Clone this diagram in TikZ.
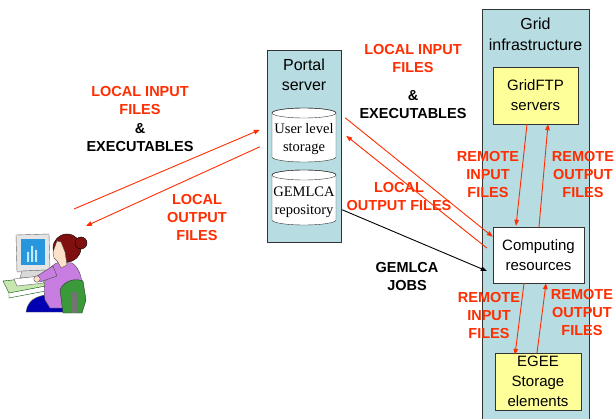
\documentclass[tikz,border=0pt]{standalone}
\usepackage{fontspec}
\setmainfont{Liberation Sans}
\newfontfamily\cylfont{Liberation Serif}
\usetikzlibrary{arrows.meta,calc}
\definecolor{portalteal}{RGB}{183,221,226}
\definecolor{boxyellow}{RGB}{255,255,153}
\definecolor{lblred}{RGB}{255,45,0}
\definecolor{hair}{RGB}{128,16,16}
\definecolor{skin}{RGB}{253,224,200}
\definecolor{shirt}{RGB}{199,126,224}
\definecolor{chair}{RGB}{58,154,58}
\definecolor{desk}{RGB}{200,230,176}
\definecolor{screen}{RGB}{40,150,220}
\begin{document}
\begin{tikzpicture}[x=1pt,y=-1pt,
  lbl/.style={font=\fontsize{14.5}{18}\selectfont\bfseries,align=center,inner sep=0pt},
  redlbl/.style={lbl,text=lblred},
  title/.style={font=\fontsize{16}{20.5}\selectfont,align=center,inner sep=0pt},
  hwbox/.style={draw=black!80,minimum width=85pt,minimum height=57pt,align=center,
    font=\fontsize{15}{20}\selectfont,inner sep=0pt},
  tip/.style={-{Triangle[length=6pt,width=4.5pt]}},
  redarrow/.style={tip,draw=lblred,line width=0.9pt}]
  \useasboundingbox (0,0) rectangle (615,419);

  % --- user at the workstation ---
  % desk
  \filldraw[fill=desk,draw=black!70!green] (3,281) -- (50,276) -- (56,284) -- (9,293) -- cycle;
  \draw[black!70!green] (9,293) -- (9,298) -- (56,289) -- (56,284);
  % monitor
  \filldraw[fill=black!10,draw=black!60] (16,235) -- (49,234) -- (50,270) -- (17,272) -- cycle;
  \fill[screen] (21,239) rectangle (45,265);
  \fill[cyan!25] (27,262) rectangle (29,252) (31,262) rectangle (33,246) (35,262) rectangle (37,250);
  \filldraw[fill=black!15,draw=black!60] (22,271) -- (46,270) -- (48,276) -- (20,278) -- cycle;
  % keyboard
  \filldraw[fill=white,draw=black!60] (14,279) -- (40,276) -- (44,283) -- (17,286) -- cycle;
  % legs
  \filldraw[fill=blue!70!black,draw=black!70] (26,312) .. controls (28,298) and (40,293) .. (62,295) -- (64,312) -- cycle;
  % body and arm
  \filldraw[fill=shirt,draw=black!70] (45,300) .. controls (42,280) and (48,264) .. (60,262)
    -- (72,263) .. controls (80,268) and (83,280) .. (82,292) -- (80,308) -- (50,308) -- cycle;
  \filldraw[fill=shirt,draw=black!70] (53,266) -- (37,276) -- (40,282) -- (57,276) -- cycle;
  \filldraw[fill=skin,draw=black!70] (37,279) circle[radius=3.2];
  % chair back
  \filldraw[fill=chair,draw=black!80] (60,290) .. controls (64,280) and (76,278) .. (83,281)
    -- (86,300) -- (82,313) -- (63,313) -- cycle;
  \fill[black!55] (72,292) rectangle (77,313);
  % head
  \filldraw[fill=hair,draw=black] (67,248) ellipse[x radius=14,y radius=14];
  \filldraw[fill=hair,draw=black] (81,243) circle[radius=6];
  \filldraw[fill=skin,draw=black!70] (57,241) -- (53,252) -- (54,258) -- (58,262) -- (61,268)
    -- (67,265) -- (65,252) -- (61,242) -- cycle;

  % --- portal server ---
  \node[draw=black!80,fill=portalteal,minimum width=74pt,minimum height=192pt,inner sep=0pt] (portal) at (304,146) {};
  \node[title] (portaltitle) at (304,75) {Portal\\server};
  % storage drums
  \foreach \t/\b in {113/157,175/220} {
    \filldraw[fill=white,draw=black!80] (272,\t) -- (272,\b) arc[start angle=180,end angle=0,x radius=32,y radius=5]
      -- (336,\t) arc[start angle=0,end angle=-180,x radius=32,y radius=5] -- cycle;
    \draw[black!80] (304,\t) ellipse[x radius=32,y radius=5];
  }
  \node[font=\cylfont\fontsize{14.5}{18.5}\selectfont,align=center,inner sep=0pt] (store) at (304,139) {User level\\storage};
  \node[font=\cylfont\fontsize{14.5}{18.5}\selectfont,align=center,inner sep=0pt] (repo) at (304,202.5) {GEMLCA\\repository};

  % --- grid infrastructure ---
  \fill[portalteal] (482,9) rectangle (589,419);
  \draw[black!80] (482,419) -- (482,9) -- (589,9) -- (589,419);
  \node[title] (gridtitle) at (535.5,34.5) {Grid\\infrastructure};
  \node[hwbox,fill=boxyellow] (ftp) at (535.5,95.5) {GridFTP\\servers};
  \node[hwbox,fill=white,minimum width=91pt,minimum height=56pt] (comp) at (538.5,255) {Computing\\resources};
  \node[hwbox,fill=boxyellow,minimum width=86pt] (egee) at (538,381.5) {EGEE\\Storage\\elements};

  % --- labels ---
  \node[redlbl] (inlbl) at (140,101) {LOCAL INPUT\\FILES};
  \node[lbl] (exelbl) at (140,138) {\&\\EXECUTABLES};
  \node[redlbl] (outlbl) at (197,217.5) {LOCAL\\OUTPUT\\FILES};
  \node[redlbl] (inlbl2) at (413,58.5) {LOCAL INPUT\\FILES};
  \node[lbl] (exelbl2) at (413,104.5) {\&\\EXECUTABLES};
  \node[redlbl] (outlbl2) at (399,197) {LOCAL\\OUTPUT FILES};
  \node[lbl] (jobslbl) at (407,276.5) {GEMLCA\\JOBS};
  \node[redlbl] (remin1) at (488,174.5) {REMOTE\\INPUT\\FILES};
  \node[redlbl] (remout1) at (583,174.5) {REMOTE\\OUTPUT\\FILES};
  \node[redlbl] (remin2) at (489,315.5) {REMOTE\\INPUT\\FILES};
  \node[redlbl] (remout2) at (582,313) {REMOTE\\OUTPUT\\FILES};

  % --- transfers ---
  \coordinate (userin) at (74,209);
  \coordinate (userout) at (86,226);
  \draw[redarrow] (userin) -- ($(portal.north west)+(-7,80)$);
  \draw[redarrow] ($(portal.north west)+(-7,97)$) -- (userout);
  \draw[redarrow] ($(portal.north east)+(4,68)$) -- ($(comp.north west)+(0,10)$);
  \draw[redarrow] ($(comp.west)+(-6,-7)$) -- ($(portal.north east)+(5,86)$);
  \draw[tip,line width=0.9pt] ($(portal.north east)+(1,160)$) -- ($(comp.west)+(-6,16)$);
  \draw[redarrow] ($(ftp.south)+(-8.5,0)$) -- ($(comp.north)+(-22.5,-1)$);
  \draw[redarrow] ($(comp.north)+(0.5,0)$) -- ($(ftp.south)+(12.5,0)$);
  \draw[redarrow] ($(comp.south)+(-14.5,0)$) -- ($(egee.north)+(-23,2)$);
  \draw[redarrow] ($(egee.north)+(-1,0)$) -- ($(comp.south)+(7.5,0)$);
\end{tikzpicture}
\end{document}
